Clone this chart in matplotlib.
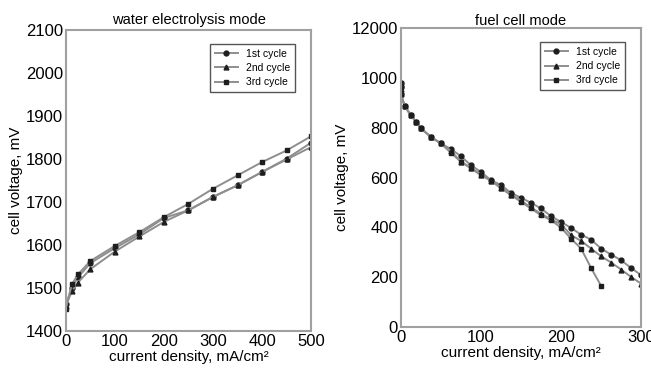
import matplotlib.pyplot as plt

plt.rcParams['font.family'] = ['Liberation Sans', 'DejaVu Sans']

# water electrolysis mode
we_x = [0, 12.5, 25, 50, 100, 150, 200, 250, 300, 350, 400, 450, 500]
we_c1 = [1462, 1500, 1525, 1558, 1593, 1625, 1663, 1681, 1712, 1739, 1770, 1801, 1838]
we_c2 = [1458, 1493, 1513, 1544, 1585, 1620, 1654, 1681, 1712, 1739, 1770, 1799, 1828]
we_c3 = [1452, 1509, 1532, 1563, 1598, 1630, 1665, 1696, 1731, 1762, 1793, 1820, 1853]

# fuel cell mode
fc_x = [0, 0, 0, 5, 12.5, 19, 25, 37.5, 50, 62.5, 75, 87.5, 100, 112.5, 125, 137.5,
        150, 162.5, 175, 187.5, 200, 212.5, 225, 237.5, 250, 262.5, 275, 287.5, 300]
fc_c1 = [981, 962, 936, 887, 851, 824, 798, 764, 737, 715, 686, 650, 623, 590, 570, 539,
         519, 499, 476, 445, 422, 398, 371, 351, 315, 291, 268, 237, 208]
fc_c2 = [975, 955, 936, 887, 851, 824, 798, 764, 737, 708, 664, 640, 612, 588, 560, 532,
         508, 480, 455, 432, 413, 369, 346, 315, 284, 259, 231, 201, 174]
fc_x3 = [0, 0, 0, 5, 12.5, 19, 25, 37.5, 50, 62.5, 75, 87.5, 100, 112.5, 125, 137.5,
         150, 162.5, 175, 187.5, 200, 212.5, 225, 237.5, 250]
fc_c3 = [981, 962, 936, 887, 851, 824, 798, 764, 737, 700, 664, 637, 610, 588, 557, 530,
         503, 476, 449, 429, 399, 355, 315, 237, 165]

labels = ['1st cycle', '2nd cycle', '3rd cycle']
markers = ['o', '^', 's']

line_c = '#8e8e8e'
mark_c = '#1e1e1e'
frame_c = '#a0a0a0'

fig = plt.figure(figsize=(6.51, 3.70), dpi=100)
ax1 = fig.add_axes([0.101, 0.105, 0.377, 0.814])
ax2 = fig.add_axes([0.6155, 0.116, 0.3695, 0.808])


def draw(ax, xs, ys):
    for x, y, lab, m in zip(xs, ys, labels, markers):
        ax.plot(x, y, color=line_c, lw=1.4, marker=m, ms=3.5, mfc=mark_c, mec=mark_c, label=lab)
    for s in ax.spines.values():
        s.set_color(frame_c)
        s.set_linewidth(1.5)
    ax.tick_params(length=0, labelsize=12, pad=2)
    leg = ax.legend(loc='upper right', fontsize=7.5, fancybox=False, framealpha=1,
                    handlelength=2.2, borderpad=0.45, labelspacing=0.4,
                    bbox_to_anchor=(0.955, 0.97))
    leg.get_frame().set_edgecolor('#555555')
    leg.get_frame().set_linewidth(1.0)
    ax.set_xlabel('current density, mA/cm²', fontsize=11, labelpad=1)
    ax.set_ylabel('cell voltage, mV', fontsize=11, labelpad=2)


draw(ax1, [we_x, we_x, we_x], [we_c1, we_c2, we_c3])
ax1.set_xlim(0, 500)
ax1.set_ylim(1400, 2100)
ax1.set_xticks(range(0, 501, 100))
ax1.set_yticks(range(1400, 2101, 100))
ax1.set_title('water electrolysis mode', fontsize=10.5, pad=4)

draw(ax2, [fc_x, fc_x, fc_x3], [fc_c1, fc_c2, fc_c3])
ax2.set_xlim(0, 300)
ax2.set_ylim(0, 1200)
ax2.set_xticks([0, 100, 200, 300])
ax2.set_yticks(range(0, 1201, 200))
ax2.set_yticklabels(['0', '200', '400', '600', '800', '1000', '12000'])
ax2.set_title('fuel cell mode', fontsize=10.5, pad=2)

fig.savefig('out.png', dpi=100)
